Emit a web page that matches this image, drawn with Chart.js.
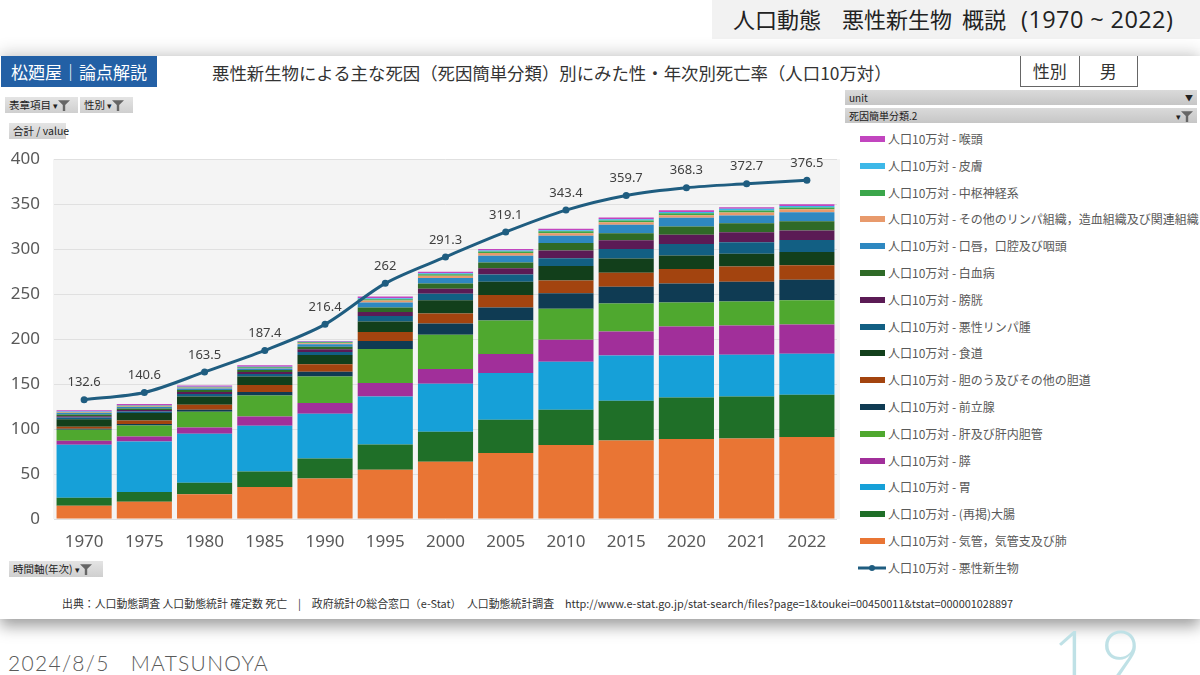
<!DOCTYPE html>
<html lang="ja">
<head>
<meta charset="utf-8">
<script src="https://cdn.jsdelivr.net/npm/chart.js@4.4.1/dist/chart.umd.min.js"></script>
<style>
  html,body{margin:0;padding:0;}
  body{width:1200px;height:675px;position:relative;overflow:hidden;background:#fff;font-family:"Noto Sans CJK JP","Noto Sans",sans-serif;}
  .abs{position:absolute;}
  #hdr{left:712px;top:0;width:488px;height:39px;background:#f2f2f2;font-family:"Open Sans","Noto Sans CJK JP",sans-serif;font-size:22px;color:#222;line-height:39px;padding-left:21px;box-sizing:border-box;white-space:pre;}
  #panel{left:0;top:56px;width:1200px;height:563px;background:#fff;box-shadow:0 -6px 14px rgba(0,0,0,0.12),0 8px 14px rgba(0,0,0,0.35);}
  #badge{left:1px;top:56px;width:156px;height:31px;background:#2360a5;color:#fff;font-size:17px;line-height:31px;text-align:center;}
  #title{left:212px;top:60px;font-size:17.4px;color:#333;white-space:nowrap;line-height:26px;}
  #sexbox{left:1020px;top:56px;width:118px;height:31px;border:1px solid #666;border-top:none;box-sizing:border-box;font-size:17px;color:#333;display:flex;}
  #sexbox div{flex:1;text-align:center;line-height:30px;}
  #sexbox div:first-child{border-right:1px solid #666;}
  .btn{background:linear-gradient(#e4e4e4,#cfcfcf);font-size:10.5px;color:#222;height:16px;line-height:16px;padding:0 4px;box-sizing:border-box;white-space:nowrap;}
  .bar{left:845px;width:352px;height:15px;background:linear-gradient(#dadada,#c6c6c6);font-size:10px;color:#222;line-height:15px;padding-left:4px;box-sizing:border-box;}
  .bar span{position:absolute;right:4px;top:0;}
  #legend{left:858px;top:130px;}
  .li{position:absolute;left:0;height:18px;width:340px;font-size:12px;color:#595959;white-space:nowrap;line-height:18px;}
  .sw{position:absolute;left:2px;top:6px;width:25px;height:6px;}
  .lt{position:absolute;left:30px;top:0;}
  #chartwrap{left:0;top:135px;width:848px;height:425px;}
  #src{left:62px;top:595px;font-size:10.9px;color:#333;white-space:pre;}
  #foot{left:8px;top:650px;font-family:"Lato","DejaVu Sans",sans-serif;font-weight:300;font-size:21px;color:#5a5a5a;letter-spacing:1.3px;white-space:pre;}
  #page{left:1052px;top:612px;font-family:"Lato",sans-serif;font-weight:300;font-size:70px;color:#bfe1e6;letter-spacing:8px;}
  .fn{vertical-align:-2px;}
</style>
</head>
<body>
<div id="hdr" class="abs">人口動態<span style="display:inline-block;width:21px"></span>悪性新生物<span style="display:inline-block;width:10px"></span>概説<span style="display:inline-block;width:15px"></span><span style="font-size:23.5px;letter-spacing:0.4px">(1970 ~ 2022)</span></div>
<div id="panel" class="abs"></div>
<div id="badge" class="abs">松廼屋｜論点解説</div>
<div id="title" class="abs">悪性新生物による主な死因（死因簡単分類）別にみた性・年次別死亡率（人口10万対）</div>
<div id="sexbox" class="abs"><div>性別</div><div>男</div></div>
<div class="abs btn" style="left:5px;top:97px;width:73px;">表章項目 <span style="font-size:9px">▾</span><svg class="fn" width="12" height="12" viewBox="0 0 10 10"><path d="M0 1H10L6 5V10H4V5Z" fill="#666"/></svg></div>
<div class="abs btn" style="left:80px;top:97px;width:53px;">性別 <span style="font-size:9px">▾</span><svg class="fn" width="12" height="12" viewBox="0 0 10 10"><path d="M0 1H10L6 5V10H4V5Z" fill="#666"/></svg></div>
<div class="abs btn" style="left:9px;top:123px;width:57px;">合計 / value</div>
<div class="abs bar" style="top:90px;">unit<span style="font-size:8px">▼</span></div>
<div class="abs bar" style="top:108px;">死因簡単分類.2<span><span style="position:static;font-size:9px">▾</span><svg class="fn" width="12" height="12" viewBox="0 0 10 10"><path d="M0 1H10L6 5V10H4V5Z" fill="#666"/></svg></span></div>
<div id="legend" class="abs"></div>
<div id="chartwrap" class="abs"><canvas id="c"></canvas></div>
<div class="abs btn" style="left:9px;top:561px;width:94px;">時間軸(年次) <span style="font-size:9px">▾</span><svg class="fn" width="12" height="12" viewBox="0 0 10 10"><path d="M0 1H10L6 5V10H4V5Z" fill="#666"/></svg></div>
<div id="src" class="abs">出典：人口動態調査 人口動態統計 確定数 死亡　|　政府統計の総合窓口（e-Stat）　人口動態統計調査　http://www.e-stat.go.jp/stat-search/files?page=1&amp;toukei=00450011&amp;tstat=000001028897</div>
<div id="foot" class="abs">2024/8/5   MATSUNOYA</div>
<div id="page" class="abs">19</div>

<script>
// ---- data ----
const years = ['1970','1975','1980','1985','1990','1995','2000','2005','2010','2015','2020','2021','2022'];
const yTicks = [0,50,100,150,200,250,300,350,400];
const prefix = '人口10万対 - ';

const lung        = [14.8, 19.2, 27.4, 35.5, 45.1, 54.8, 63.7, 73.3, 82.2, 87.4, 88.8, 89.6, 91.1];
const colon       = [8.9, 10.8, 12.9, 17.4, 22.2, 28.1, 33.3, 37.0, 39.2, 44.0, 46.3, 46.6, 47.0];
const stomach     = [58.9, 56.2, 54.5, 50.8, 49.7, 53.3, 53.3, 51.9, 53.4, 50.4, 46.7, 46.4, 45.6];
const pancreas    = [4.4, 5.6, 7.0, 10.3, 11.9, 14.9, 16.4, 21.1, 24.4, 26.7, 32.2, 32.5, 32.5];
const liver       = [12.2, 12.2, 17.4, 23.3, 29.5, 37.8, 38.1, 37.4, 34.5, 31.1, 26.7, 26.7, 27.1];
const prostate    = [1.2, 1.6, 2.2, 3.8, 5.2, 8.9, 12.5, 14.4, 17.4, 18.5, 21.1, 21.9, 22.6];
const gallbladder = [2.2, 4.0, 5.6, 7.8, 8.5, 10.0, 11.1, 13.8, 14.0, 15.6, 16.0, 17.0, 16.3];
const esophagus   = [8.2, 8.2, 9.2, 9.5, 10.3, 11.8, 14.9, 14.8, 16.3, 15.9, 15.1, 14.1, 14.5];
const lymphoma    = [2.0, 1.8, 2.7, 2.7, 3.3, 6.0, 7.0, 8.1, 8.6, 10.7, 12.7, 13.0, 13.6];
const bladder     = [1.5, 1.5, 2.2, 2.2, 3.0, 4.4, 5.6, 7.1, 8.4, 9.7, 10.3, 11.1, 10.4];
const leukemia    = [2.0, 1.8, 2.2, 2.3, 2.9, 5.1, 5.9, 6.2, 8.3, 7.8, 9.2, 10.0, 10.4];
const oral        = [1.5, 1.5, 1.8, 1.7, 2.6, 5.6, 6.0, 7.5, 8.1, 9.2, 9.7, 8.4, 10.0];
const otherLymph  = [0.7, 0.7, 0.7, 0.7, 1.2, 2.2, 2.5, 3.0, 3.0, 3.0, 3.0, 3.4, 3.3];
const cns         = [0.5, 0.7, 0.7, 0.7, 1.0, 1.5, 1.9, 1.7, 2.2, 1.8, 2.2, 2.2, 1.8];
const skin        = [0.4, 0.5, 0.5, 0.6, 0.7, 1.1, 1.1, 1.1, 1.1, 1.5, 1.4, 1.9, 1.9];
const larynx      = [1.5, 1.5, 1.4, 1.5, 0.9, 1.8, 1.5, 1.9, 1.6, 1.8, 1.9, 1.9, 1.9];
const totalAll    = [132.6, 140.6, 163.5, 187.4, 216.4, 262, 291.3, 319.1, 343.4, 359.7, 368.3, 372.7, 376.5];
const totalLabels = ['132.6','140.6','163.5','187.4','216.4','262','291.3','319.1','343.4','359.7','368.3','372.7','376.5'];

// stacking order: bottom -> top
const barNames = ['気管，気管支及び肺','(再掲)大腸','胃','膵','肝及び肝内胆管','前立腺','胆のう及びその他の胆道','食道','悪性リンパ腫','膀胱','白血病','口唇，口腔及び咽頭','その他のリンパ組織，造血組織及び関連組織','中枢神経系','皮膚','喉頭'];
const barData  = [lung, colon, stomach, pancreas, liver, prostate, gallbladder, esophagus, lymphoma, bladder, leukemia, oral, otherLymph, cns, skin, larynx];
const barColors = ['#e97534','#1f6f28','#16a0d8','#a12f9a','#4fa82f','#0f3b53','#a3440f','#123f1b','#125f83','#5b1b55','#2f6a27','#2e88c1','#e89a6c','#3ba64b','#3db8e8','#c245bf'];
const lineName = '悪性新生物';
const lineColor = '#1f5d80';

// ---- legend (HTML, top = last stacked) ----
const legend = document.getElementById('legend');
const step = 26.8;
for (let k = barNames.length - 1, row = 0; k >= 0; k--, row++) {
  const d = document.createElement('div');
  d.className = 'li';
  d.style.top = (row * step) + 'px';
  d.innerHTML = '<div class="sw" style="background:' + barColors[k] + '"></div><div class="lt">' + prefix + barNames[k] + '</div>';
  legend.appendChild(d);
}
{
  const d = document.createElement('div');
  d.className = 'li';
  d.style.top = (barNames.length * step) + 'px';
  d.innerHTML = '<svg style="position:absolute;left:0;top:4px" width="30" height="10"><line x1="0" y1="5" x2="28" y2="5" stroke="' + lineColor + '" stroke-width="3"/><circle cx="14" cy="5" r="3" fill="' + lineColor + '"/></svg><div class="lt">' + prefix + lineName + '</div>';
  legend.appendChild(d);
}

// ---- chart ----
const datasets = barData.map((arr, i) => ({
  type: 'bar',
  label: prefix + barNames[i],
  data: arr,
  backgroundColor: barColors[i],
  borderWidth: 0,
  stack: 'bars',
  order: 1,
  barPercentage: 0.915,
  categoryPercentage: 1.0
}));
datasets.push({
  type: 'line',
  label: prefix + lineName,
  data: totalAll,
  borderColor: lineColor,
  backgroundColor: lineColor,
  borderWidth: 3,
  pointRadius: 3.5,
  pointBackgroundColor: lineColor,
  pointBorderWidth: 0,
  tension: 0.3,
  stack: 'line',
  order: 0
});

const plotBg = {
  id: 'plotBg',
  beforeDraw(chart) {
    const {ctx, chartArea: a} = chart;
    ctx.save();
    ctx.fillStyle = '#f4f4f4';
    ctx.fillRect(a.left - 1, a.top, a.right - a.left + 4, a.bottom - a.top);
    ctx.restore();
  }
};
const lineLabels = {
  id: 'lineLabels',
  afterDatasetsDraw(chart) {
    const idx = chart.data.datasets.length - 1;
    const meta = chart.getDatasetMeta(idx);
    const ctx = chart.ctx;
    ctx.save();
    ctx.font = '13px "Noto Sans", sans-serif';
    ctx.fillStyle = '#404040';
    ctx.textAlign = 'center';
    ctx.textBaseline = 'middle';
    meta.data.forEach((pt, i) => {
      ctx.fillText(totalLabels[i], pt.x, pt.y - 17);
    });
    ctx.restore();
  }
};

new Chart(document.getElementById('c'), {
  data: { labels: years, datasets },
  options: {
    responsive: true,
    maintainAspectRatio: false,
    animation: false,
    layout: { padding: { top: 8, right: 11, left: 0, bottom: 0 } },
    plugins: { legend: { display: false }, tooltip: { enabled: false } },
    scales: {
      x: {
        stacked: true,
        grid: { display: false },
        border: { display: false },
        ticks: { color: '#595959', font: { size: 17, family: '"Noto Sans", sans-serif' }, padding: 5 },
        afterFit(s) { s.height = 41; }
      },
      y: {
        stacked: true,
        min: 0, max: 400,
        afterBuildTicks(s) { s.ticks = yTicks.map(v => ({ value: v })); },
        grid: { color: '#e0e0e0', lineWidth: 1, drawTicks: false },
        border: { display: false },
        ticks: { color: '#595959', font: { size: 17, family: '"Noto Sans", sans-serif' }, padding: 14 },
        afterFit(s) { s.width = 54; }
      }
    }
  },
  plugins: [plotBg, lineLabels]
});
</script>
</body>
</html>
